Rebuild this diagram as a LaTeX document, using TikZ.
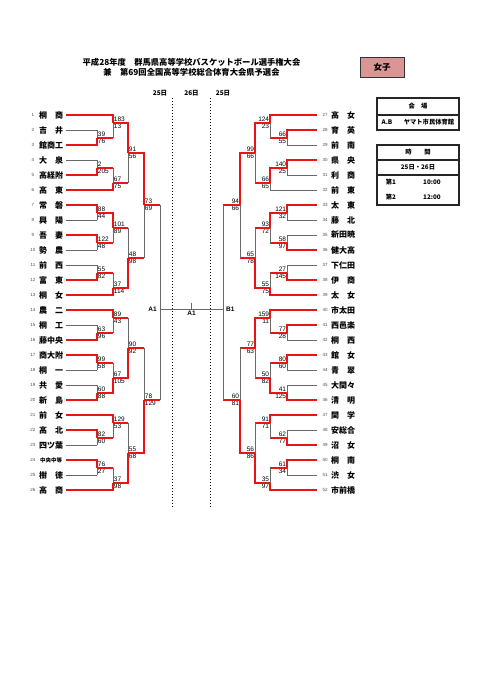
\documentclass[tikz,border=0pt]{standalone}
\usepackage{fontspec}
\setmainfont{Noto Sans CJK JP}
\newfontfamily\arial{Liberation Sans}
\usepackage{xcolor}
\usetikzlibrary{positioning}

\definecolor{winred}{RGB}{235,20,20}
\definecolor{linegray}{RGB}{105,105,105}
\definecolor{girlpink}{RGB}{218,150,148}

% one game: name, position of the run-out, winner input, loser input,
% style of the loser's run-in, upper score, lower score
\newcommand{\game}[7]{%
  \coordinate (#1) at (#2);
  \draw[#5] (#4) -- (#4 -| #1);
  \draw[lose] (#4 -| #1) -- (#1);
  \draw[win] (#3) -| (#1);
  \node[score, hi] (#1u) at (#1) {#6};
  \node[score, lo] (#1l) at (#1) {#7};
}

\begin{document}
\begin{tikzpicture}[
  x=1pt, y=-1pt,
  win/.style={draw=winred, line width=2pt},
  lose/.style={draw=linegray, line width=0.8pt},
  team/.style={font=\fontsize{8}{8}\selectfont\bfseries, inner sep=0pt},
  small/.style={font=\fontsize{5.5}{6}\selectfont\bfseries, inner sep=0pt},
  num/.style={font=\arial\fontsize{4.5}{5}\selectfont, text=black!70, inner sep=0pt},
  score/.style={font=\arial\fontsize{6.5}{6.5}\selectfont, inner xsep=0.7pt, inner ysep=1.2pt},
  headline/.style={font=\fontsize{8.3}{9}\selectfont\bfseries, inner sep=0pt},
  day/.style={font=\fontsize{6.5}{7}\selectfont\bfseries, inner sep=0pt},
  court/.style={font=\arial\fontsize{6.5}{7}\selectfont\bfseries, inner sep=0pt},
  infobox/.style={draw=black!85, line width=1.1pt},
  info/.style={font=\fontsize{6.3}{7}\selectfont\bfseries, inner sep=0pt}
]
\useasboundingbox (0,0) rectangle (481,680);

% Heading
\node[headline] (head1) at (191.5,62) {平成28年度　群馬県高等学校バスケットボール選手権大会};
\node[headline] (head2) at (191.5,72) {兼　第69回全国高等学校総合体育大会県予選会};
\node[draw=black!80, line width=0.8pt, fill=girlpink, minimum width=44pt, minimum height=20pt,
      font=\fontsize{8.5}{9}\selectfont\bfseries] (girls) at (382,67) {女子};

% Days
\node[day] (d1) at (160,93) {25日};
\node[day] (d2) at (191.5,93) {26日};
\node[day] (d3) at (223,93) {25日};
\draw[dotted, line width=1pt] (172,98) -- (172,507);
\draw[dotted, line width=1pt] (210,98) -- (210,507);

% Venue and time
\draw[infobox] (377,98) rectangle (459,130);
\draw[infobox] (377,115) -- (459,115);
\node[info] (venue) at (418,106.5) {会　場};
\node[info] (ab) at (387,122.5) {A.B};
\node[info] (hall) at (429,122.5) {ヤマト市民体育館};
\draw[infobox] (377,145) rectangle (459,205);
\draw[infobox] (377,160) -- (459,160);
\draw[infobox] (377,175) -- (459,175);
\node[info] (time) at (418,152.5) {時　　間};
\node[info] (days) at (418,167.5) {25日・26日};
\node[info] (s1) at (391,182.5) {第1};
\node[info] (t1h) at (432,182.5) {10:00};
\node[info] (s2) at (391,197.5) {第2};
\node[info] (t2h) at (432,197.5) {12:00};

% Teams, left
\node[num] (n1) at (33,115) {1};  \node[team] (t1) at (51,115) {桐　商};  \coordinate (a1) at (66,115);
\node[num] (n2) at (33,130) {2};  \node[team] (t2) at (51,130) {吉　井};  \coordinate (a2) at (66,130);
\node[num] (n3) at (33,145) {3};  \node[team] (t3) at (51,145) {館商工};  \coordinate (a3) at (66,145);
\node[num] (n4) at (33,160) {4};  \node[team] (t4) at (51,160) {大　泉};  \coordinate (a4) at (66,160);
\node[num] (n5) at (33,175) {5};  \node[team] (t5) at (51,175) {高経附};  \coordinate (a5) at (66,175);
\node[num] (n6) at (33,190) {6};  \node[team] (t6) at (51,190) {高　東};  \coordinate (a6) at (66,190);
\node[num] (n7) at (33,205) {7};  \node[team] (t7) at (51,205) {常　磐};  \coordinate (a7) at (66,205);
\node[num] (n8) at (33,220) {8};  \node[team] (t8) at (51,220) {興　陽};  \coordinate (a8) at (66,220);
\node[num] (n9) at (33,235) {9};  \node[team] (t9) at (51,235) {吾　妻};  \coordinate (a9) at (66,235);
\node[num] (n10) at (33,250) {10}; \node[team] (t10) at (51,250) {勢　農}; \coordinate (a10) at (66,250);
\node[num] (n11) at (33,265) {11}; \node[team] (t11) at (51,265) {前　西}; \coordinate (a11) at (66,265);
\node[num] (n12) at (33,280) {12}; \node[team] (t12) at (51,280) {富　東}; \coordinate (a12) at (66,280);
\node[num] (n13) at (33,295) {13}; \node[team] (t13) at (51,295) {桐　女}; \coordinate (a13) at (66,295);
\node[num] (n14) at (33,310) {14}; \node[team] (t14) at (51,310) {農　二}; \coordinate (a14) at (66,310);
\node[num] (n15) at (33,325) {15}; \node[team] (t15) at (51,325) {桐　工}; \coordinate (a15) at (66,325);
\node[num] (n16) at (33,340) {16}; \node[team] (t16) at (51,340) {藤中央}; \coordinate (a16) at (66,340);
\node[num] (n17) at (33,355) {17}; \node[team] (t17) at (51,355) {商大附}; \coordinate (a17) at (66,355);
\node[num] (n18) at (33,370) {18}; \node[team] (t18) at (51,370) {桐　一}; \coordinate (a18) at (66,370);
\node[num] (n19) at (33,385) {19}; \node[team] (t19) at (51,385) {共　愛}; \coordinate (a19) at (66,385);
\node[num] (n20) at (33,400) {20}; \node[team] (t20) at (51,400) {新　島}; \coordinate (a20) at (66,400);
\node[num] (n21) at (33,415) {21}; \node[team] (t21) at (51,415) {前　女}; \coordinate (a21) at (66,415);
\node[num] (n22) at (33,430) {22}; \node[team] (t22) at (51,430) {高　北}; \coordinate (a22) at (66,430);
\node[num] (n23) at (33,445) {23}; \node[team] (t23) at (51,445) {四ツ葉}; \coordinate (a23) at (66,445);
\node[num] (n24) at (33,460) {24}; \node[small] (t24) at (51,460) {中央中等}; \coordinate (a24) at (66,460);
\node[num] (n25) at (33,475) {25}; \node[team] (t25) at (51,475) {樹　徳}; \coordinate (a25) at (66,475);
\node[num] (n26) at (33,490) {26}; \node[team] (t26) at (51,490) {高　商}; \coordinate (a26) at (66,490);

% Teams, right
\node[num] (n27) at (325,115) {27}; \node[team] (t27) at (343,115) {高　女}; \coordinate (a27) at (317,115);
\node[num] (n28) at (325,130) {28}; \node[team] (t28) at (343,130) {育　英}; \coordinate (a28) at (317,130);
\node[num] (n29) at (325,145) {29}; \node[team] (t29) at (343,145) {前　南}; \coordinate (a29) at (317,145);
\node[num] (n30) at (325,160) {30}; \node[team] (t30) at (343,160) {県　央}; \coordinate (a30) at (317,160);
\node[num] (n31) at (325,175) {31}; \node[team] (t31) at (343,175) {利　商}; \coordinate (a31) at (317,175);
\node[num] (n32) at (325,190) {32}; \node[team] (t32) at (343,190) {前　東}; \coordinate (a32) at (317,190);
\node[num] (n33) at (325,205) {33}; \node[team] (t33) at (343,205) {太　東}; \coordinate (a33) at (317,205);
\node[num] (n34) at (325,220) {34}; \node[team] (t34) at (343,220) {藤　北}; \coordinate (a34) at (317,220);
\node[num] (n35) at (325,235) {35}; \node[team] (t35) at (343,235) {新田暁}; \coordinate (a35) at (317,235);
\node[num] (n36) at (325,250) {36}; \node[team] (t36) at (343,250) {健大高}; \coordinate (a36) at (317,250);
\node[num] (n37) at (325,265) {37}; \node[team] (t37) at (343,265) {下仁田}; \coordinate (a37) at (317,265);
\node[num] (n38) at (325,280) {38}; \node[team] (t38) at (343,280) {伊　商}; \coordinate (a38) at (317,280);
\node[num] (n39) at (325,295) {39}; \node[team] (t39) at (343,295) {太　女}; \coordinate (a39) at (317,295);
\node[num] (n40) at (325,310) {40}; \node[team] (t40) at (343,310) {市太田}; \coordinate (a40) at (317,310);
\node[num] (n41) at (325,325) {41}; \node[team] (t41) at (343,325) {西邑楽}; \coordinate (a41) at (317,325);
\node[num] (n42) at (325,340) {42}; \node[team] (t42) at (343,340) {桐　西}; \coordinate (a42) at (317,340);
\node[num] (n43) at (325,355) {43}; \node[team] (t43) at (343,355) {館　女}; \coordinate (a43) at (317,355);
\node[num] (n44) at (325,370) {44}; \node[team] (t44) at (343,370) {青　翠}; \coordinate (a44) at (317,370);
\node[num] (n45) at (325,385) {45}; \node[team] (t45) at (343,385) {大間々}; \coordinate (a45) at (317,385);
\node[num] (n46) at (325,400) {46}; \node[team] (t46) at (343,400) {清　明}; \coordinate (a46) at (317,400);
\node[num] (n47) at (325,415) {47}; \node[team] (t47) at (343,415) {関　学}; \coordinate (a47) at (317,415);
\node[num] (n48) at (325,430) {48}; \node[team] (t48) at (343,430) {安総合}; \coordinate (a48) at (317,430);
\node[num] (n49) at (325,445) {49}; \node[team] (t49) at (343,445) {沼　女}; \coordinate (a49) at (317,445);
\node[num] (n50) at (325,460) {50}; \node[team] (t50) at (343,460) {桐　南}; \coordinate (a50) at (317,460);
\node[num] (n51) at (325,475) {51}; \node[team] (t51) at (343,475) {渋　女}; \coordinate (a51) at (317,475);
\node[num] (n52) at (325,490) {52}; \node[team] (t52) at (343,490) {市前橋}; \coordinate (a52) at (317,490);

% Left bracket
\begin{scope}[hi/.style={anchor=south west}, lo/.style={anchor=north west}]
\game{m1}{97,137.5}{a3}{a2}{lose}{39}{76}
\game{m2}{113,122.5}{a1}{m1}{win}{183}{13}
\game{m3}{97,167.5}{a5}{a4}{lose}{2}{205}
\game{m4}{113,182.5}{a6}{m3}{win}{67}{75}
\game{m5}{128,152.5}{m2}{m4}{win}{91}{56}
\game{m6}{97,212.5}{a7}{a8}{lose}{88}{44}
\game{m7}{97,242.5}{a9}{a10}{lose}{122}{48}
\game{m8}{113,227.5}{m6}{m7}{win}{101}{89}
\game{m9}{97,272.5}{a12}{a11}{lose}{55}{82}
\game{m10}{113,287.5}{a13}{m9}{win}{37}{114}
\game{m11}{128,257.5}{m10}{m8}{win}{48}{98}
\game{m12}{144,205}{m5}{m11}{win}{73}{69}
\game{m13}{97,332.5}{a16}{a15}{lose}{63}{96}
\game{m14}{113,317.5}{a14}{m13}{win}{89}{43}
\game{m15}{97,362.5}{a17}{a18}{lose}{99}{58}
\game{m16}{97,392.5}{a20}{a19}{lose}{60}{88}
\game{m17}{113,377.5}{m16}{m15}{win}{67}{105}
\game{m18}{128,347.5}{m17}{m14}{win}{90}{92}
\game{m19}{97,437.5}{a22}{a23}{lose}{82}{60}
\game{m20}{113,422.5}{a21}{m19}{win}{129}{53}
\game{m21}{97,467.5}{a24}{a25}{lose}{76}{27}
\game{m22}{113,482.5}{a26}{m21}{win}{37}{98}
\game{m23}{128,452.5}{m22}{m20}{win}{55}{68}
\game{m24}{144,400}{m23}{m18}{win}{78}{129}
\end{scope}

% Right bracket
\begin{scope}[hi/.style={anchor=south east}, lo/.style={anchor=north east}]
\game{m25}{287,137.5}{a28}{a29}{lose}{66}{55}
\game{m26}{270,122.5}{a27}{m25}{win}{124}{23}
\game{m27}{287,167.5}{a30}{a31}{lose}{140}{25}
\game{m28}{270,182.5}{m27}{a32}{lose}{66}{65}
\game{m29}{255,152.5}{m26}{m28}{win}{99}{66}
\game{m30}{287,212.5}{a33}{a34}{lose}{121}{32}
\game{m31}{287,242.5}{a36}{a35}{lose}{58}{97}
\game{m32}{270,227.5}{m30}{m31}{win}{93}{72}
\game{m33}{287,272.5}{a38}{a37}{lose}{27}{145}
\game{m34}{270,287.5}{a39}{m33}{win}{55}{75}
\game{m35}{255,257.5}{m34}{m32}{win}{65}{78}
\game{m36}{240,205}{m29}{m35}{win}{94}{66}
\game{m37}{287,332.5}{a41}{a42}{lose}{77}{28}
\game{m38}{270,317.5}{a40}{m37}{win}{159}{11}
\game{m39}{287,362.5}{a43}{a44}{lose}{80}{60}
\game{m40}{287,392.5}{a46}{a45}{lose}{41}{125}
\game{m41}{270,377.5}{m40}{m39}{win}{50}{82}
\game{m42}{255,347.5}{m38}{m41}{win}{77}{63}
\game{m43}{287,437.5}{a49}{a48}{lose}{62}{77}
\game{m44}{270,422.5}{a47}{m43}{win}{91}{71}
\game{m45}{287,467.5}{a50}{a51}{lose}{61}{34}
\game{m46}{270,482.5}{a52}{m45}{win}{35}{97}
\game{m47}{255,452.5}{m46}{m44}{win}{56}{86}
\game{m48}{240,400}{m47}{m42}{win}{60}{81}
\end{scope}

% Semi-finals and final
\coordinate (sA) at (160,309);
\coordinate (sB) at (223,309);
\coordinate (fin) at (191.5,309);
\draw[win] (m12) -- (m12 -| sA);
\draw[win] (m24) -- (m24 -| sA);
\draw[lose] (m12 -| sA) -- (m24 -| sA);
\draw[win] (m36) -- (m36 -| sB);
\draw[win] (m48) -- (m48 -| sB);
\draw[lose] (m36 -| sB) -- (m48 -| sB);
\draw[lose] (sA) -- (sB);
\draw[lose] (fin) -- ++(0,-6);
\node[court, anchor=east] (cA) at (157,309) {A1};
\node[court, anchor=west] (cB) at (226,309) {B1};
\node[court, anchor=north] (cF) at (191.5,311) {A1};

\end{tikzpicture}
\end{document}
